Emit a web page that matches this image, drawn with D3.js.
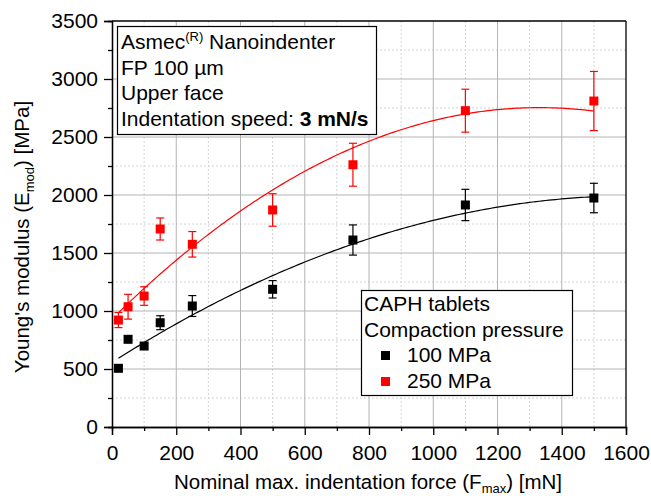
<!DOCTYPE html>
<meta charset="utf-8">
<style>
body { margin: 0; background: #fff; }
svg { font-family: "Liberation Sans", Arial, sans-serif; }
.grid-major line { stroke: #b4b4b4; stroke-width: 1; }
.grid-minor line { stroke: #d4d4d4; stroke-width: 1; stroke-dasharray: 2,2; }
.axis path, .axis line { stroke: #000; stroke-width: 1.3; }
.axis text { font-size: 21px; fill: #000; }
</style>
<body>
<script src="https://d3js.org/d3.v7.min.js"></script>
<script>
// nominal max force [mN]
var forces = [20, 50, 100, 150, 250, 500, 750, 1100, 1500];
// Young's modulus, 100 MPa tablets
var mod100 = [506, 756, 698, 899, 1043, 1187, 1612, 1914, 1974];
var err100 = [20, 20, 25, 60, 90, 75, 130, 135, 127];
// Young's modulus, 250 MPa tablets
var mod250 = [922, 1037, 1129, 1707, 1575, 1871, 2261, 2727, 2810];
var err250 = [65, 107, 80, 95, 110, 140, 185, 185, 255];
// quadratic fit coefficients a + b*x + c*x^2
var fit100 = [557, 1.768, -0.000544];
var fit250 = [931, 2.74, -0.00103];

var xTicks = [0, 200, 400, 600, 800, 1000, 1200, 1400, 1600];
var yTicks = [0, 500, 1000, 1500, 2000, 2500, 3000, 3500];
var infoLines = ["FP 100 µm", "Upper face"];
var legendSeries = [
  {name: "100 MPa", color: "#000"},
  {name: "250 MPa", color: "#f00"}
];

var W = 651, H = 496, FS = 21;
var svg = d3.select("body").append("svg").attr("width", W).attr("height", H);

var x = d3.scaleLinear().domain([0, 1600]).range([112, 626]);
var y = d3.scaleLinear().domain([0, 3500]).range([427, 21]);

// grid
var minorX = xTicks.slice(0, -1).map(function(d){ return d + 100; });
var minorY = yTicks.slice(0, -1).map(function(d){ return d + 250; });

var gMin = svg.append("g").attr("class", "grid-minor");
gMin.selectAll("line.vx").data(minorX).join("line").attr("class", "vx")
  .attr("x1", d => x(d)).attr("x2", d => x(d)).attr("y1", y(0)).attr("y2", y(3500));
gMin.selectAll("line.hy").data(minorY).join("line").attr("class", "hy")
  .attr("x1", x(0)).attr("x2", x(1600)).attr("y1", d => y(d)).attr("y2", d => y(d));

var gMaj = svg.append("g").attr("class", "grid-major");
gMaj.selectAll("line.vx").data(xTicks.slice(1, -1)).join("line").attr("class", "vx")
  .attr("x1", d => x(d)).attr("x2", d => x(d)).attr("y1", y(0)).attr("y2", y(3500));
gMaj.selectAll("line.hy").data(yTicks.slice(1, -1)).join("line").attr("class", "hy")
  .attr("x1", x(0)).attr("x2", x(1600)).attr("y1", d => y(d)).attr("y2", d => y(d));

// fit curves
function poly(c) { return function(f){ return c[0] + c[1]*f + c[2]*f*f; }; }
var fitX = d3.range(20, 1501, 10);
var line = d3.line().x(d => x(d[0])).y(d => y(d[1]));
svg.append("path").datum(fitX.map(f => [f, poly(fit100)(f)]))
  .attr("d", line).attr("fill", "none").attr("stroke", "#000").attr("stroke-width", 1.2);
svg.append("path").datum(fitX.map(f => [f, poly(fit250)(f)]))
  .attr("d", line).attr("fill", "none").attr("stroke", "#f00").attr("stroke-width", 1.2);

// error bars + markers
function series(vals, errs, color) {
  var data = forces.map(function(f, i){ return {f: f, v: vals[i], e: errs[i]}; });
  var g = svg.append("g");
  var eb = g.selectAll("g.eb").data(data).join("g").attr("stroke", color).attr("stroke-width", 1.2);
  eb.append("line").attr("x1", d => x(d.f)).attr("x2", d => x(d.f))
    .attr("y1", d => y(d.v - d.e)).attr("y2", d => y(d.v + d.e));
  eb.append("line").attr("x1", d => x(d.f) - 4).attr("x2", d => x(d.f) + 4)
    .attr("y1", d => y(d.v + d.e)).attr("y2", d => y(d.v + d.e));
  eb.append("line").attr("x1", d => x(d.f) - 4).attr("x2", d => x(d.f) + 4)
    .attr("y1", d => y(d.v - d.e)).attr("y2", d => y(d.v - d.e));
  g.selectAll("rect").data(data).join("rect")
    .attr("x", d => x(d.f) - 4.5).attr("y", d => y(d.v) - 4.5)
    .attr("width", 9).attr("height", 9).attr("fill", color);
}
series(mod100, err100, "#000");
series(mod250, err250, "#f00");

// axes
svg.append("g").attr("class", "axis").attr("transform", "translate(0," + y(0) + ")")
  .call(d3.axisBottom(x).tickValues(minorX).tickSize(4).tickFormat(""));
svg.append("g").attr("class", "axis").attr("transform", "translate(0," + y(0) + ")")
  .call(d3.axisBottom(x).tickValues(xTicks).tickSize(8).tickPadding(8).tickFormat(d3.format("d")))
  .selectAll("text").attr("dy", "0.8em");
svg.append("g").attr("class", "axis").attr("transform", "translate(" + x(0) + ",0)")
  .call(d3.axisLeft(y).tickValues(minorY).tickSize(4).tickFormat(""));
svg.append("g").attr("class", "axis").attr("transform", "translate(" + x(0) + ",0)")
  .call(d3.axisLeft(y).tickValues(yTicks).tickSize(8).tickPadding(6).tickFormat(d3.format("d")));

// top & right frame
svg.append("line").attr("x1", x(0)).attr("x2", x(1600)).attr("y1", y(3500)).attr("y2", y(3500))
  .attr("stroke", "#000").attr("stroke-width", 1.3);
svg.append("line").attr("x1", x(1600)).attr("x2", x(1600)).attr("y1", y(3500)).attr("y2", y(0))
  .attr("stroke", "#000").attr("stroke-width", 1.3);

// info box
var info = svg.append("g");
info.append("rect").attr("x", 117.5).attr("y", 26.5).attr("width", 259).attr("height", 108)
  .attr("fill", "#fff").attr("stroke", "#000").attr("stroke-width", 1.2);
var t0 = info.append("text").attr("x", 121).attr("y", 49).attr("font-size", FS);
t0.append("tspan").text("Asmec");
t0.append("tspan").attr("font-size", 13).attr("dy", -8).text("(R)");
t0.append("tspan").attr("dy", 8).text(" Nanoindenter");
info.selectAll("text.l").data(infoLines).join("text").attr("class", "l")
  .attr("x", 121).attr("y", (d, i) => 74.5 + i * 25.8).attr("font-size", FS).text(d => d);
var t3 = info.append("text").attr("x", 121).attr("y", 126).attr("font-size", FS);
t3.append("tspan").text("Indentation speed: ");
t3.append("tspan").attr("font-weight", "bold").text("3 mN/s");

// legend
var lg = svg.append("g");
lg.append("rect").attr("x", 361.5).attr("y", 290.5).attr("width", 211).attr("height", 105)
  .attr("fill", "#fff").attr("stroke", "#000").attr("stroke-width", 1.2);
lg.append("text").attr("x", 364).attr("y", 311).attr("font-size", FS).text("CAPH tablets");
lg.append("text").attr("x", 364).attr("y", 337).attr("font-size", FS).text("Compaction pressure");
var li = lg.selectAll("g.it").data(legendSeries).join("g").attr("class", "it")
  .attr("transform", (d, i) => "translate(0," + (362 + i * 26) + ")");
li.append("rect").attr("x", 381).attr("y", -11).attr("width", 9).attr("height", 9).attr("fill", d => d.color);
li.append("text").attr("x", 407).attr("y", 0).attr("font-size", FS).text(d => d.name);

// axis titles
var xt = svg.append("text").attr("x", 368).attr("y", 489).attr("text-anchor", "middle").attr("font-size", 20.5);
xt.append("tspan").text("Nominal max. indentation force (F");
xt.append("tspan").attr("font-size", 13).attr("dy", 4).text("max");
xt.append("tspan").attr("dy", -4).text(") [mN]");

var yt = svg.append("text").attr("transform", "translate(29,237) rotate(-90)")
  .attr("text-anchor", "middle").attr("font-size", 20.5);
yt.append("tspan").text("Young's modulus (E");
yt.append("tspan").attr("font-size", 13).attr("dy", 5).text("mod");
yt.append("tspan").attr("dy", -5).text(") [MPa]");
</script>
</body>
</html>
